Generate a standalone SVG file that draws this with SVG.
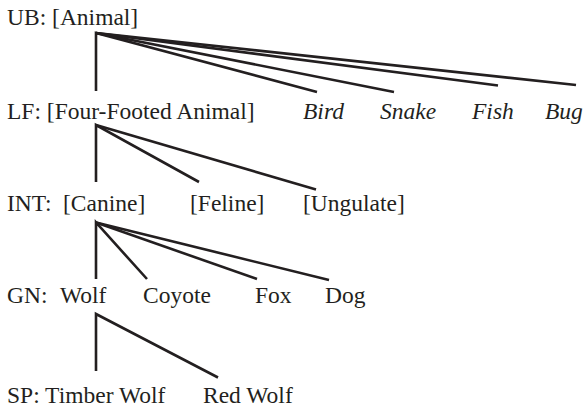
<svg xmlns="http://www.w3.org/2000/svg" width="583" height="411" viewBox="0 0 583 411">
<style>
text{font-family:"Liberation Serif","Times New Roman",serif;font-size:23.5px;fill:#231f20}
.it{font-style:italic}
.e{stroke:#231f20;stroke-width:2.6;fill:none;stroke-linecap:butt;stroke-linejoin:miter}
</style>
<rect width="583" height="411" fill="#fff"/>
<g id="connectors" class="e">
<path d="M96,91 V33 L317,92"/>
<path d="M96,33 L394,92"/>
<path d="M96,33 L498,85.5"/>
<path d="M96,33 L576,85"/>
<path d="M96,182 V125 L199,182"/>
<path d="M96,125 L316,189.5"/>
<path d="M96,279 V222.5 L147,279"/>
<path d="M96,222.5 L257,279"/>
<path d="M96,222.5 L329,280"/>
<path d="M96,371 V314 L218,377.5"/>
</g>
<g id="n-animal"><text x="7" y="25">UB: [Animal]</text></g>
<g id="n-fourfooted"><text x="7" y="119">LF: [Four-Footed Animal]</text></g>
<g id="n-bird"><text class="it" x="303" y="119">Bird</text></g>
<g id="n-snake"><text class="it" x="380" y="119">Snake</text></g>
<g id="n-fish"><text class="it" x="472" y="119">Fish</text></g>
<g id="n-bug"><text class="it" x="545" y="119">Bug</text></g>
<g id="n-canine"><text x="7" y="211">INT:</text><text x="63" y="211">[Canine]</text></g>
<g id="n-feline"><text x="190" y="211">[Feline]</text></g>
<g id="n-ungulate"><text x="303" y="211">[Ungulate]</text></g>
<g id="n-wolf"><text x="7" y="303">GN:</text><text x="60" y="303">Wolf</text></g>
<g id="n-coyote"><text x="143" y="303">Coyote</text></g>
<g id="n-fox"><text x="255" y="303">Fox</text></g>
<g id="n-dog"><text x="325" y="303">Dog</text></g>
<g id="n-timberwolf"><text x="7" y="403">SP: Timber Wolf</text></g>
<g id="n-redwolf"><text x="203" y="403">Red Wolf</text></g>
</svg>
